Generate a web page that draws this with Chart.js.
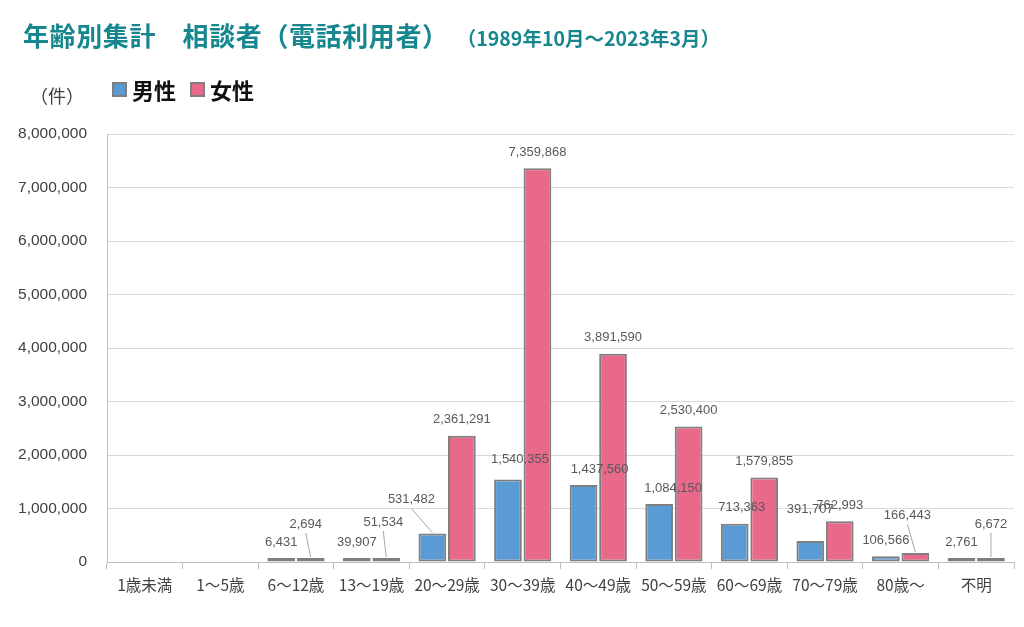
<!DOCTYPE html>
<html lang="ja">
<head>
<meta charset="utf-8">
<script src="https://cdn.jsdelivr.net/npm/chart.js@4"></script>
<style>
  html, body { margin:0; padding:0; background:#fff; }
  body { width:1024px; height:627px; position:relative; overflow:hidden;
         font-family:"Noto Sans CJK JP","Noto Sans",sans-serif; }
  #c { position:absolute; left:0; top:0; }
  .title { position:absolute; left:23px; top:17px; color:#17878f; font-weight:bold;
           font-size:26px; letter-spacing:0.6px; white-space:nowrap; line-height:36px; }
  .title small { font-size:19.5px; margin-left:18px; letter-spacing:0px; }
  .unit { position:absolute; left:30px; top:82px; font-size:18px; line-height:26px; color:#404040; }
  .legend { position:absolute; left:112px; top:75px; font-size:22px; line-height:28px; font-weight:bold; color:#111;
            display:flex; align-items:center; }
  .legend .sw { width:11px; height:11px; border:2px solid #7f7f7f; display:inline-block; margin-right:5px; }
  .legend .item { display:flex; align-items:center; margin-right:14px; }
</style>
</head>
<body>
<canvas id="c" width="1024" height="627"></canvas>
<div class="title">年齢別集計　相談者（電話利用者）<small>（1989年10月～2023年3月）</small></div>
<div class="unit">（件）</div>
<div class="legend">
  <span class="item"><span class="sw" style="background:#5b9bd5"></span>男性</span>
  <span class="item"><span class="sw" style="background:#e8698a"></span>女性</span>
</div>
<script>
const categories = ["1歳未満","1～5歳","6～12歳","13～19歳","20～29歳","30～39歳","40～49歳","50～59歳","60～69歳","70～79歳","80歳～","不明"];
const maleValues = [null, null, 6431, 39907, 531482, 1540355, 1437560, 1084150, 713363, 391707, 106566, 2761];
const femaleValues = [null, null, 2694, 51534, 2361291, 7359868, 3891590, 2530400, 1579855, 762993, 166443, 6672];
const seriesNames = ["男性", "女性"];
const yTicks = [0, 1000000, 2000000, 3000000, 4000000, 5000000, 6000000, 7000000, 8000000];

// label placement tweaks (pixel offsets relative to default above-bar position), with leader flags
const labelTweaks = [
  [ [0,0],[0,0],[0,0],[0,0],[-21,-18,1],[12,-4],[16,0],[14,0],[7,0],[0,-16],[0,0],[0,0] ],
  [ [0,0],[0,0],[-5,-18,1],[-3,-20,1],[0,0],[0,0],[0,0],[0,0],[0,0],[0,0],[-8,-22,1],[0,-18,1] ]
];

const fmt = v => v.toLocaleString('en-US');

const labelPlugin = {
  id: 'barLabels',
  afterDatasetsDraw(chart) {
    const ctx = chart.ctx;
    ctx.save();
    ctx.font = '13px "Liberation Sans","Noto Sans CJK JP",sans-serif';
    ctx.fillStyle = '#595959';
    ctx.textAlign = 'center';
    ctx.textBaseline = 'middle';
    chart.data.datasets.forEach((ds, di) => {
      const meta = chart.getDatasetMeta(di);
      meta.data.forEach((bar, i) => {
        const v = ds.data[i];
        if (v == null) return;
        const t = labelTweaks[di][i] || [0,0];
        const x = bar.x + t[0];
        const y = bar.y - 16 + t[1];
        if (t[2]) {
          ctx.strokeStyle = '#a6a6a6';
          ctx.lineWidth = 1;
          ctx.beginPath();
          ctx.moveTo(x, y + 9);
          ctx.lineTo(bar.x, bar.y - 1);
          ctx.stroke();
        }
        ctx.fillText(fmt(v), x, y);
      });
    });
    ctx.restore();
  }
};

new Chart(document.getElementById('c'), {
  type: 'bar',
  data: {
    labels: categories,
    datasets: [
      { label: seriesNames[0], data: maleValues, backgroundColor: '#5b9bd5', borderColor: '#7f7f7f', borderWidth: 2, borderSkipped: false, minBarLength: 4, barPercentage: 0.94, categoryPercentage: 0.78 },
      { label: seriesNames[1], data: femaleValues, backgroundColor: '#e8698a', borderColor: '#7f7f7f', borderWidth: 2, borderSkipped: false, minBarLength: 4, barPercentage: 0.94, categoryPercentage: 0.78 }
    ]
  },
  options: {
    responsive: false,
    animation: false,
    devicePixelRatio: 1,
    layout: { padding: { top: 134, right: 10, bottom: 0, left: 0 } },
    plugins: { legend: { display: false }, tooltip: { enabled: false }, title: { display: false } },
    scales: {
      x: {
        offset: true,
        grid: { display: true, drawOnChartArea: false, drawTicks: true, tickLength: 7, color: '#bfbfbf', offset: true },
        border: { color: '#bfbfbf' },
        ticks: { color: '#404040', font: { size: 15.5, family: '"Noto Sans CJK JP","Liberation Sans",sans-serif' }, padding: 7, maxRotation: 0, autoSkip: false },
        afterFit(axis) { axis.height = 65; }
      },
      y: {
        min: 0, max: 8000000,
        afterBuildTicks(axis) { axis.ticks = yTicks.map(v => ({ value: v })); },
        grid: { color: '#d9d9d9', drawTicks: false },
        border: { color: '#bfbfbf' },
        ticks: { color: '#404040', font: { size: 15.5, family: '"Liberation Sans",sans-serif' }, padding: 20, callback: v => fmt(v) },
        afterFit(axis) { axis.width = 107; }
      }
    }
  },
  plugins: [labelPlugin]
});
</script>
</body>
</html>
